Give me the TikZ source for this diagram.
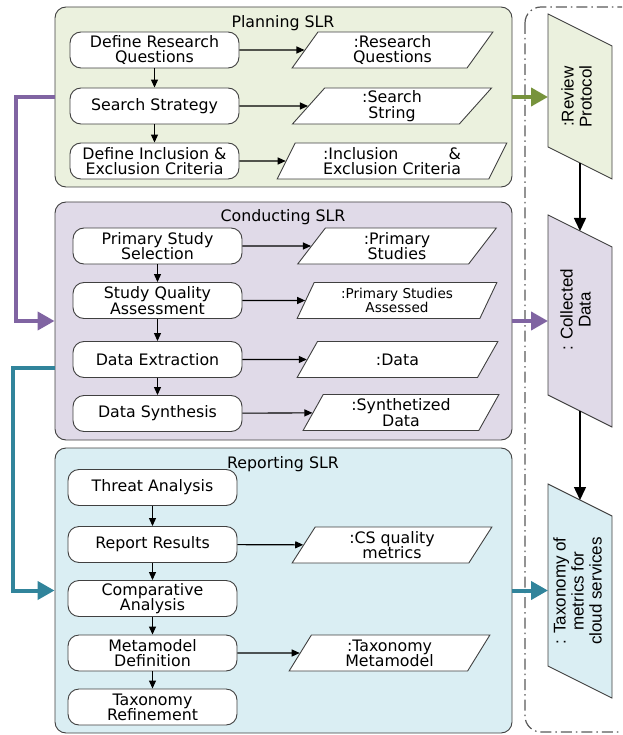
\documentclass[tikz,border=0pt]{standalone}
\usepackage{fontspec}
\setmainfont{DejaVu Sans}
\newfontfamily\sidefont{Liberation Sans}
\usepackage{calc}
\usetikzlibrary{arrows.meta,shapes.geometric,calc}

\definecolor{planfill}{HTML}{EBF1DE}
\definecolor{condfill}{HTML}{E0DAE8}
\definecolor{repfill}{HTML}{DAEEF3}
\definecolor{edgegray}{HTML}{404040}
\definecolor{framegray}{HTML}{595959}
\definecolor{olivearrow}{HTML}{77933C}
\definecolor{plumarrow}{HTML}{8064A2}
\definecolor{tealarrow}{HTML}{31849B}

\begin{document}
\begin{tikzpicture}[x=1pt,y=-1pt,
  stage/.style={draw=edgegray, line width=0.9pt, rounded corners=11pt,
    minimum width=457pt, inner sep=0pt},
  stagetitle/.style={anchor=base, inner sep=0pt, font=\fontsize{15.8}{16}\selectfont},
  task/.style={draw=edgegray, line width=0.9pt, fill=white, rounded corners=11pt,
    minimum width=169pt, minimum height=36pt, inner sep=0pt, align=center,
    font=\fontsize{15.8}{15.3}\selectfont},
  artefact/.style={trapezium, trapezium left angle=65, trapezium right angle=115,
    trapezium stretches=true, draw=edgegray, line width=0.9pt, fill=white,
    minimum height=36pt, inner sep=0pt, align=center,
    font=\fontsize{15.8}{15.3}\selectfont},
  flow/.style={draw=black, line width=1.1pt, -{Triangle[length=8pt,width=7pt]}},
  bigflow/.style={draw=black, line width=1.5pt, -{Triangle[length=13pt,width=12pt]}},
  feed/.style={line width=4pt, -{Triangle[length=17pt,width=18pt]}},
  sideshape/.style={draw=edgegray, line width=0.9pt},
  sidetext/.style={inner sep=0pt, font=\sidefont\fontsize{17}{18}\selectfont},
  frame/.style={draw=framegray, line width=1.2pt, rounded corners=16pt,
    dash pattern=on 11pt off 4pt on 1.5pt off 4pt}
]
\useasboundingbox (0,0) rectangle (622,735);
\clip (0,0) rectangle (622,735);

% outer dash-dot frame of the output column
\draw[frame] (525,7) rectangle (690,732);

% the three phases
\node[stage, fill=planfill, minimum height=180pt] (plan) at (283.5,97) {};
\node[stage, fill=condfill, minimum height=238pt] (cond) at (283.5,321) {};
\node[stage, fill=repfill, minimum height=285pt] (rep) at (283.5,590.5) {};
\node[stagetitle] (planT) at (283,27.5) {Planning SLR};
\node[stagetitle] (condT) at (283,222) {Conducting SLR};
\node[stagetitle] (repT) at (283,468) {Reporting SLR};

% planning activities and products
\node[task] (t1) at (154.5,50) {Define Research\\Questions};
\node[task] (t2) at (154.5,106) {Search Strategy};
\node[task] (t3) at (154.5,161) {Define Inclusion \&\\Exclusion Criteria};
\node[artefact, minimum width=201pt] (a1) at (392.5,50) {:Research\\Questions};
\node[artefact, minimum width=200pt] (a2) at (392,106) {:Search\\String};
\node[artefact, minimum width=230pt] (a3) at (392,161)
  {\makebox[\widthof{Exclusion Criteria}]{:Inclusion\hfill\&}\\Exclusion Criteria};

% conducting activities and products
\node[task] (c1) at (157.5,246) {Primary Study\\Selection};
\node[task] (c2) at (157.5,300.5) {Study Quality\\Assessment};
\node[task] (c3) at (157.5,359.5) {Data Extraction};
\node[task] (c4) at (157.5,413.5) {Data Synthesis};
\node[artefact, minimum width=200pt] (b1) at (397,246) {:Primary\\Studies};
\node[artefact, minimum width=200pt, font=\fontsize{13.6}{11.5}\selectfont] (b2) at (397,300.5)
  {:Primary Studies\\Assessed};
\node[artefact, minimum width=201pt] (b3) at (397.5,359.5) {:Data};
\node[artefact, minimum width=196pt] (b4) at (401,412.5) {:Synthetized\\Data};

% reporting activities and products
\node[task] (r1) at (152.5,487.5) {Threat Analysis};
\node[task] (r2) at (152.5,544.5) {Report Results};
\node[task] (r3) at (152.5,598.5) {Comparative\\Analysis};
\node[task] (r4) at (152.5,653) {Metamodel\\Definition};
\node[task] (r5) at (152.5,707) {Taxonomy\\Refinement};
\node[artefact, minimum width=200pt] (d1) at (392,545) {:CS quality\\metrics};
\node[artefact, minimum width=201pt] (d2) at (389.5,653) {:Taxonomy\\Metamodel};

% sequence inside each phase
\draw[flow] (t1) -- (t2);
\draw[flow] (t2) -- (t3);
\draw[flow] (c1) -- (c2);
\draw[flow] (c2) -- (c3);
\draw[flow] (c3) -- (c4);
\draw[flow] (r1) -- (r2);
\draw[flow] (r2) -- (r3);
\draw[flow] (r3) -- (r4);
\draw[flow] (r4) -- (r5);

% activity -> product
\draw[flow] (t1) -- (a1);
\draw[flow] (t2) -- (a2);
\draw[flow] (t3) -- (a3);
\draw[flow] (c1) -- (b1);
\draw[flow] (c2) -- (b2);
\draw[flow] (c3) -- (b3);
\draw[flow] (c4) -- (b4);
\draw[flow] (r2) -- (d1);
\draw[flow] (r4) -- (d2);

% output column: slanted data shapes
\coordinate (rpc) at (580,96.5);
\coordinate (cdc) at (580,321);
\coordinate (txc) at (580,591);
\draw[sideshape, fill=planfill] ($(rpc)+(-32,-82.5)$) -- ++(64,32) -- ++(0,133) -- ++(-64,-32) -- cycle;
\draw[sideshape, fill=condfill] ($(cdc)+(-32,-106)$) -- ++(64,32) -- ++(0,180) -- ++(-64,-32) -- cycle;
\draw[sideshape, fill=repfill] ($(txc)+(-32,-107)$) -- ++(64,32) -- ++(0,182) -- ++(-64,-32) -- cycle;
\coordinate (rp-w) at ($(rpc)+(-32,0)$);
\coordinate (rp-s) at ($(rpc)+(0,66.5)$);
\coordinate (cd-w) at ($(cdc)+(-32,0)$);
\coordinate (cd-n) at ($(cdc)+(0,-90)$);
\coordinate (cd-s) at ($(cdc)+(0,90)$);
\coordinate (tx-w) at ($(txc)+(-32,0)$);
\coordinate (tx-n) at ($(txc)+(0,-91)$);

\node[sidetext] (rpt) at (579,96.5)
  {\rotatebox{90}{\begin{tabular}{@{}c@{}}:Review\\Protocol\end{tabular}}};
\node[sidetext] (cdt) at (578,310)
  {\rotatebox{90}{\begin{tabular}{@{}c@{}}: Collected\\Data\end{tabular}}};
\node[sidetext] (txt) at (580,591)
  {\rotatebox{90}{\begin{tabular}{@{}c@{}}: Taxonomy of\\metrics for\\cloud services\end{tabular}}};

\draw[bigflow] (rp-s) -- (cd-n);
\draw[bigflow] (cd-s) -- (tx-n);

% phase outputs
\draw[feed, olivearrow] (plan.east) -- (plan.east -| rp-w);
\draw[feed, plumarrow] (cond.east) -- (cond.east -| cd-w);
\draw[feed, tealarrow] (rep.east) -- (rep.east -| tx-w);

% phase hand-over
\draw[feed, plumarrow] (plan.west) -- ++(-39,0) |- (cond.west);
\draw[feed, tealarrow] ([yshift=-47pt]cond.west) -- ++(-42,0) |- (rep.west);
\end{tikzpicture}
\end{document}
